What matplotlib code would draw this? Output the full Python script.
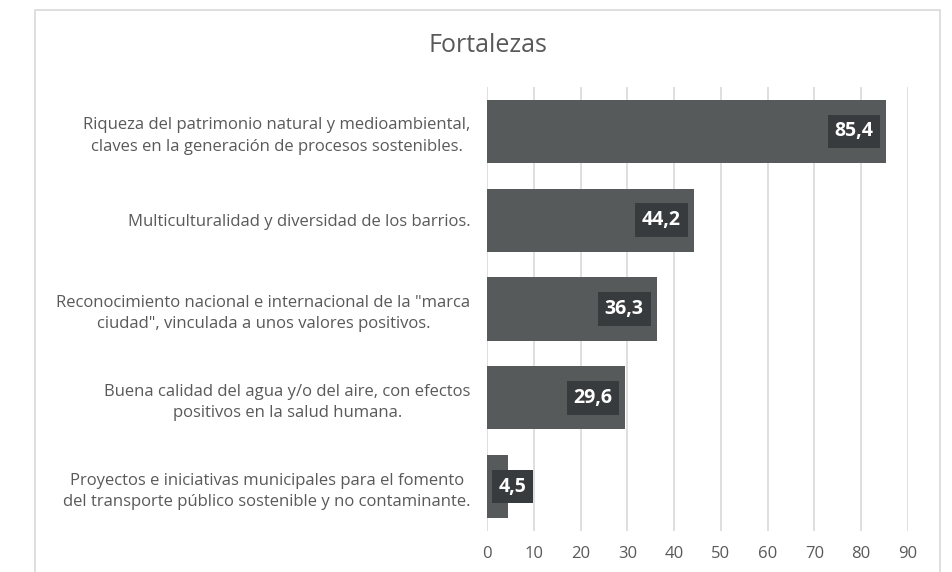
import matplotlib.pyplot as plt
from matplotlib.patches import Rectangle

# data
categories = [
    "Riqueza del patrimonio natural y medioambiental,\nclaves en la generación de procesos sostenibles.",
    "Multiculturalidad y diversidad de los barrios.",
    "Reconocimiento nacional e internacional de la \"marca\nciudad\", vinculada a unos valores positivos.",
    "Buena calidad del agua y/o del aire, con efectos\npositivos en la salud humana.",
    "Proyectos e iniciativas municipales para el fomento\ndel transporte público sostenible y no contaminante.",
]
values = [85.4, 44.2, 36.3, 29.6, 4.5]
xticks = [0, 10, 20, 30, 40, 50, 60, 70, 80, 90]

text_color = "#595959"
bar_color = "#575a5a"
box_color = "#383b3d"
grid_color = "#d9d9d9"

plt.rcParams['font.family'] = ['Open Sans', 'DejaVu Sans']

fig = plt.figure(figsize=(9.53, 5.72), dpi=100)
W, H = 953, 572

# chart frame
fig.patches.append(Rectangle((35 / W, -0.1), (940 - 35) / W, 1.1 - 10 / H,
                             transform=fig.transFigure, fill=False,
                             edgecolor=grid_color, linewidth=1.2))

ax = fig.add_axes([487 / W, 1 - 531 / H, (908 - 487) / W, (531 - 87) / H])

y = list(range(len(categories)))
ax.barh(y, values, height=0.71, color=bar_color, zorder=3)
ax.set_ylim(len(categories) - 0.5, -0.5)
ax.set_xlim(0, 90)
ax.set_xticks(xticks)
ax.set_yticks(y)
ax.set_yticklabels(categories, fontsize=12, color=text_color,
                   multialignment='center', linespacing=1.45)
ax.tick_params(axis='y', length=0, pad=12)
ax.tick_params(axis='x', length=0, pad=11, labelsize=12, labelcolor=text_color)
for s in ax.spines.values():
    s.set_visible(False)
ax.grid(axis='x', color=grid_color, linewidth=1.2, zorder=0)
ax.set_axisbelow(True)

# value labels
for yi, v in zip(y, values):
    label = f"{v:.1f}".replace(".", ",")
    if v < 10:
        xt, ha = 8.5, 'left'
        xv = 0
    else:
        xt, ha = -9.4, 'right'
        xv = v
    ax.annotate(label, (xv, yi), xytext=(xt, 0), textcoords='offset points',
                ha=ha, va='center', color='white', fontsize=14, fontweight='bold',
                bbox=dict(boxstyle='square,pad=0.35', facecolor=box_color,
                          edgecolor='none'), zorder=5)

fig.text(487.5 / W, 1 - 45 / H, "Fortalezas", ha='center', va='center',
         fontsize=18, color=text_color)

fig.savefig("out.png", dpi=100)
